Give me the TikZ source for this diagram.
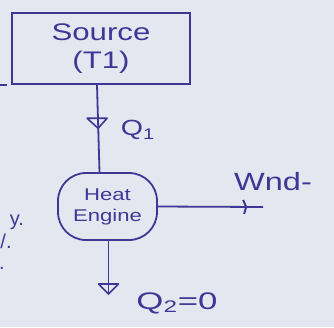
\documentclass[tikz,border=0pt]{standalone}
\usepackage{fontspec}
\setmainfont{Liberation Sans}
\usetikzlibrary{arrows.meta}
\definecolor{ink}{RGB}{62,55,150}
\definecolor{paper}{RGB}{229,231,240}
\newcommand{\wide}[1]{\scalebox{1.3}[1]{#1}}
\begin{document}
\begin{tikzpicture}[x=1pt,y=-1pt,line width=1.8pt,
  every node/.style={text=ink},
  lbl/.style={font=\fontsize{22}{24}\selectfont,inner sep=0pt},
  frag/.style={font=\fontsize{20}{22}\selectfont,inner sep=0pt},
  head/.style={draw=ink,line width=1.6pt,line join=round}]
\fill[paper] (0,0) rectangle (334,327);
\useasboundingbox (0,0) rectangle (334,327);
\node[draw=ink,minimum width=178pt,minimum height=71pt,inner sep=0pt,align=center,
  font=\fontsize{24}{28}\selectfont] (src) at (101,48.5) {\wide{Source}\\\wide{(T1)}};
\node[draw=ink,rounded corners=28pt,minimum width=99pt,minimum height=67pt,inner sep=0pt,
  align=center,font=\fontsize{17}{21}\selectfont] (eng) at (107.5,206.5) {\wide{Heat}\\\wide{Engine}};
\coordinate (w) at (263,207);
\coordinate (q2) at (108.5,295);
\draw[ink] ([xshift=-4pt]src.south) -- coordinate[pos=0.44] (m1) ([xshift=-8pt]eng.north);
\draw[ink] ([xshift=1pt]eng.south) -- (q2);
\draw[ink] (eng.east) -- coordinate[pos=0.83] (m3) (w);
\draw[head] ([shift={(-11,-5)}]m1) -- ([shift={(9,-5)}]m1) -- ([shift={(0,5)}]m1) -- cycle;
\draw[head] ([shift={(-10,-11)}]q2) -- ([shift={(10,-11)}]q2) -- ([shift={(0,-1)}]q2) -- cycle;
\draw[head,line width=2pt] ([shift={(-2,-7)}]m3) -- ([shift={(1,0)}]m3) -- ([shift={(-1,7)}]m3);
\node[lbl] (lq1) at (138,130) {\wide{Q\textsubscript{1}}};
\node[lbl,font=\fontsize{25}{27}\selectfont] (lw) at (273,182) {\wide{Wnd-}};
\node[lbl,font=\fontsize{24}{26}\selectfont] (lq2) at (177,303) {\scalebox{1.45}[1]{Q\textsubscript{2}=0}};
\node[frag] (f1) at (17,222) {y.};
\node[frag] (f2) at (6,241) {/.};
\node[frag] (f3) at (2,268) {.};
\coordinate (d1) at (0,85);
\coordinate (d2) at (7,85);
\draw[ink,line width=1.4pt] (d1) -- (d2);
\end{tikzpicture}
\end{document}
